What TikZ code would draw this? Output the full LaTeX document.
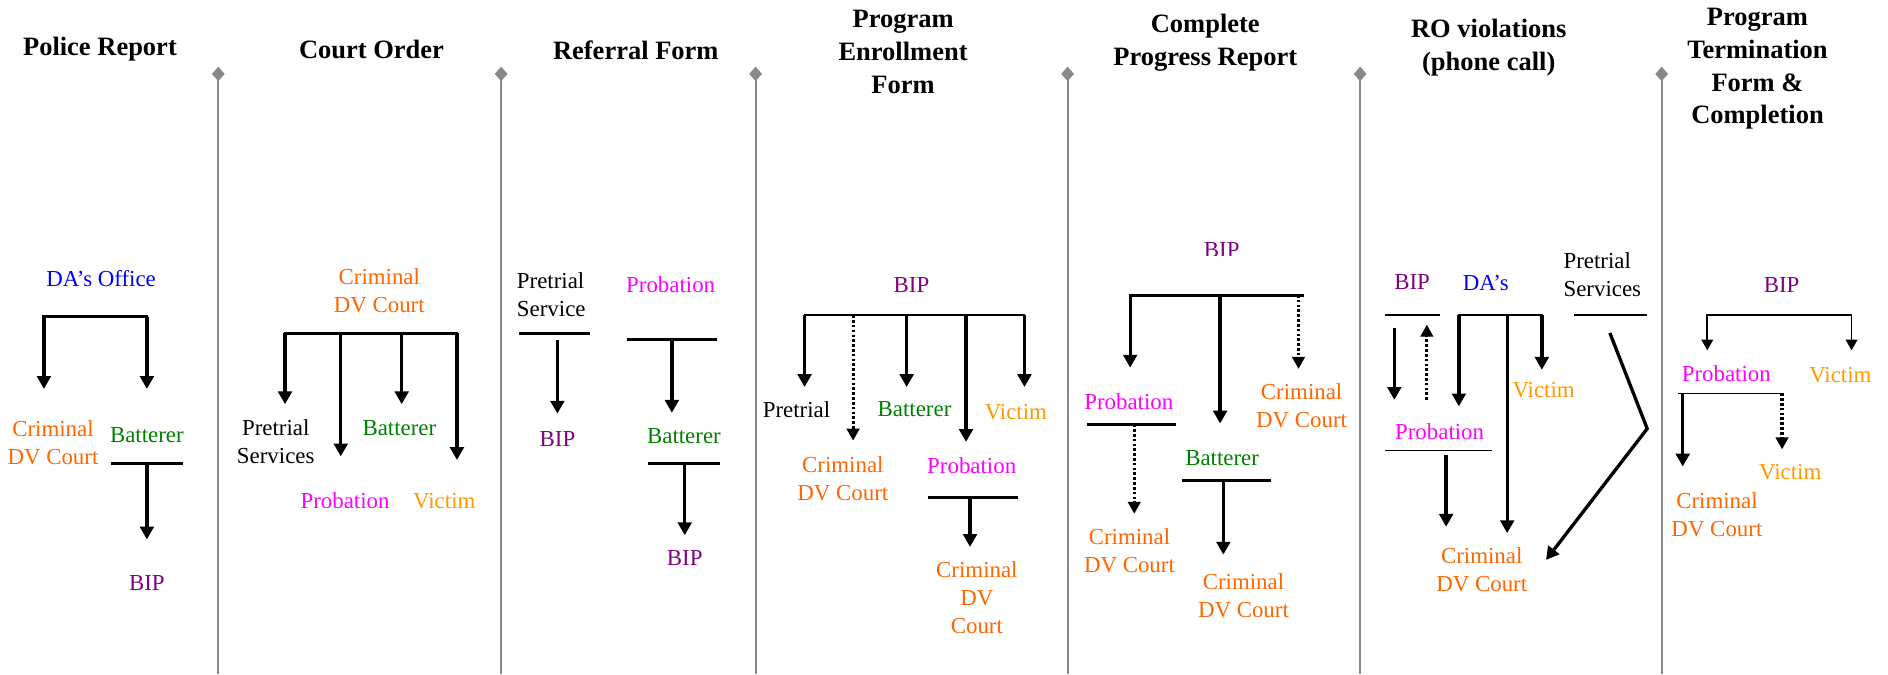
\documentclass[tikz,border=0pt]{standalone}
\usepackage{fontspec}
\setmainfont{Liberation Serif}
\usetikzlibrary{arrows.meta,calc}
\definecolor{cOr}{HTML}{FF6600}
\definecolor{cAm}{HTML}{FF9900}
\definecolor{cGr}{HTML}{008000}
\definecolor{cMa}{HTML}{FF00FF}
\definecolor{cPu}{HTML}{800080}
\definecolor{cBl}{HTML}{0000FF}
\definecolor{sepgray}{HTML}{888888}
\tikzset{
  lbl/.style={font=\fontsize{11.4}{14}\selectfont, align=center, inner sep=0pt},
  ttl/.style={font=\bfseries\fontsize{13.2}{16.4}\selectfont, align=center, inner sep=0pt},
  bar/.style={line width=1.5pt, line cap=rect},
  tbar/.style={line width=0.8pt, line cap=rect},
  mbar/.style={line width=0.95pt, line cap=rect},
  arr/.style={line width=1.65pt, -{Triangle[width=6.8pt,length=6.4pt]}},
  tarr/.style={line width=0.9pt, -{Triangle[width=5.8pt,length=5.4pt]}},
  darr/.style={line width=1.6pt, dash pattern=on 1.3pt off 1.1pt, -{Triangle[width=6.2pt,length=6pt]}},
  sepline/.style={draw=sepgray, line width=1pt},
  sepmark/.style={fill=sepgray, draw=none},
}
\begin{document}
\begin{tikzpicture}[x=0.6pt, y=-0.6pt]
\useasboundingbox (0,0) rectangle (1568,560);

% separators
\foreach \sx [count=\i] in {181.3,416.2,627.5,886.6,1129.6,1380}{
  \coordinate (s\i) at (\sx,61.4);
  \coordinate (s\i b) at (\sx,560);
  \draw[sepline] (s\i) -- (s\i b);
  \fill[sepmark] ($(s\i)+(0,-6)$) -- ($(s\i)+(5.3,0)$) -- ($(s\i)+(0,6)$) -- ($(s\i)+(-5.3,0)$) -- cycle;
}

% ---------- Panel 1: Police Report
\node[ttl] (t1) at (83,41) {Police Report};
\node[lbl, text=cBl] (da1) at (84,231) {DA’s Office};
\node[lbl, text=cOr] (cr1) at (44,368) {Criminal\\DV Court};
\node[lbl, text=cGr] (bat1) at (122,361) {Batterer};
\node[lbl, text=cPu] (bip1) at (122,484) {BIP};
\coordinate (a1) at (36.5,263); \coordinate (a1t) at (36.5,323);
\coordinate (b1) at (122,263);  \coordinate (b1t) at (122,323);
\draw[bar] (a1) -- (b1);
\draw[arr] (a1) -- (a1t);
\draw[arr] (b1) -- (b1t);
\coordinate (c1l) at (93.5,385); \coordinate (c1r) at (151,385);
\coordinate (c1) at (122,385); \coordinate (c1t) at (122,448);
\draw[bar] (c1l) -- (c1r);
\draw[arr] (c1) -- (c1t);

% ---------- Panel 2: Court Order
\node[ttl] (t2) at (308.5,41) {Court Order};
\node[lbl, text=cOr] (cr2) at (315,241.7) {Criminal\\DV Court};
\node[lbl] (pre2) at (229,367) {Pretrial\\Services};
\node[lbl, text=cGr] (bat2) at (331.7,355.3) {Batterer};
\node[lbl, text=cMa] (prob2) at (286.6,416) {Probation};
\node[lbl, text=cAm] (vic2) at (369,416) {Victim};
\coordinate (h2l) at (236.7,276.6); \coordinate (h2r) at (379.5,276.6);
\draw[bar] (h2l) -- (h2r);
\coordinate (h2a) at (283,276.6); \coordinate (h2b) at (333.6,276.6);
\coordinate (h2lt) at (236.7,335.7); \coordinate (h2at) at (283,379);
\coordinate (h2bt) at (333.6,335.7); \coordinate (h2rt) at (379.5,382);
\draw[arr] (h2l) -- (h2lt);
\draw[arr] (h2a) -- (h2at);
\draw[arr] (h2b) -- (h2bt);
\draw[arr] (h2r) -- (h2rt);

% ---------- Panel 3: Referral Form
\node[ttl] (t3) at (528,42) {Referral Form};
\node[lbl, align=left, anchor=west] (pre3) at (429,244.6) {Pretrial\\Service};
\node[lbl, text=cPu] (bip3a) at (463,364.3) {BIP};
\node[lbl, text=cMa] (prob3) at (557,236.4) {Probation};
\node[lbl, text=cGr] (bat3) at (568,362.5) {Batterer};
\node[lbl, text=cPu] (bip3b) at (568.7,463.5) {BIP};
\coordinate (g3l) at (432,276.8); \coordinate (g3r) at (489,276.8);
\draw[bar] (g3l) -- (g3r);
\coordinate (g3s) at (462.9,282); \coordinate (g3t) at (462.9,343.5);
\draw[arr] (g3s) -- (g3t);
\coordinate (k3l) at (522,282); \coordinate (k3r) at (594,282);
\draw[bar] (k3l) -- (k3r);
\coordinate (k3s) at (558,282); \coordinate (k3t) at (558,342.8);
\draw[arr] (k3s) -- (k3t);
\coordinate (m3l) at (539,384.6); \coordinate (m3r) at (597,384.6);
\draw[bar] (m3l) -- (m3r);
\coordinate (m3s) at (568.7,384.6); \coordinate (m3t) at (568.7,444.5);
\draw[arr] (m3s) -- (m3t);

% ---------- Panel 4: Program Enrollment Form
\node[ttl] (t4) at (750,43) {Program\\Enrollment\\Form};
\node[lbl, text=cPu] (bip4) at (757,236.4) {BIP};
\node[lbl] (pre4) at (661.5,340) {Pretrial};
\node[lbl, text=cGr] (bat4) at (759.5,340) {Batterer};
\node[lbl, text=cAm] (vic4) at (843.7,342) {Victim};
\node[lbl, text=cOr] (cr4a) at (700,397.3) {Criminal\\DV Court};
\node[lbl, text=cMa] (prob4) at (807,386.7) {Probation};
\node[lbl, text=cOr] (cr4b) at (811.3,496.6) {Criminal\\DV\\Court};
\coordinate (h4a) at (668.2,261.8); \coordinate (h4b) at (708.5,261.8);
\coordinate (h4c) at (753,261.8); \coordinate (h4d) at (802.3,261.8);
\coordinate (h4e) at (850.8,261.8);
\draw[mbar] (h4a) -- (h4e);
\coordinate (h4at) at (668.2,321.4); \coordinate (h4bt) at (708.5,366);
\coordinate (h4ct) at (753,321.4); \coordinate (h4dt) at (802.3,367);
\coordinate (h4et) at (850.8,321.4);
\draw[arr] (h4a) -- (h4at);
\draw[darr] (h4b) -- (h4bt);
\draw[arr] (h4c) -- (h4ct);
\draw[arr] (h4d) -- (h4dt);
\draw[arr] (h4e) -- (h4et);
\coordinate (q4l) at (772,413.2); \coordinate (q4r) at (844,413.2);
\draw[bar] (q4l) -- (q4r);
\coordinate (q4s) at (805.6,413.2); \coordinate (q4t) at (805.6,454.2);
\draw[arr] (q4s) -- (q4t);

% ---------- Panel 5: Complete Progress Report
\node[ttl] (t5) at (1001,35.5) {Complete\\Progress Report};
\begin{scope}
  \clip (960,185) rectangle (1070,212.5);
  \node[lbl, text=cPu] (bip5) at (1014.6,208) {BIP};
\end{scope}
\node[lbl, text=cMa] (prob5) at (937.5,333.9) {Probation};
\node[lbl, text=cOr] (cr5a) at (938,457.3) {Criminal\\DV Court};
\node[lbl, text=cOr] (cr5b) at (1081,336.6) {Criminal\\DV Court};
\node[lbl, text=cGr] (bat5) at (1015,380.3) {Batterer};
\node[lbl, text=cOr] (cr5c) at (1032.7,494.6) {Criminal\\DV Court};
\coordinate (h5a) at (938.6,245); \coordinate (h5b) at (1013.3,245);
\coordinate (h5c) at (1078.4,245); \coordinate (h5r) at (1081.5,245);
\draw[bar] (h5a) -- (h5r);
\coordinate (h5at) at (938.6,305.3); \coordinate (h5bt) at (1013.3,351.7);
\coordinate (h5ct) at (1078.4,306.4);
\draw[arr] (h5a) -- (h5at);
\draw[arr] (h5b) -- (h5bt);
\draw[darr] (h5c) -- (h5ct);
\coordinate (p5l) at (904,352.4); \coordinate (p5r) at (975,352.4);
\draw[bar] (p5l) -- (p5r);
\coordinate (p5s) at (942,352.4); \coordinate (p5t) at (942,426.7);
\draw[darr] (p5s) -- (p5t);
\coordinate (r5l) at (982.9,399.2); \coordinate (r5r) at (1054,399.2);
\draw[bar] (r5l) -- (r5r);
\coordinate (r5s) at (1016,399.2); \coordinate (r5t) at (1016,460.6);
\draw[arr] (r5s) -- (r5t);

% ---------- Panel 6: RO violations
\node[ttl] (t6) at (1236.4,39.7) {RO violations\\(phone call)};
\node[lbl, text=cPu] (bip6) at (1172.8,233.9) {BIP};
\node[lbl, text=cBl] (da6) at (1234,235) {DA’s};
\node[lbl, align=left, anchor=west] (pre6) at (1298.2,228.2) {Pretrial\\Services};
\node[lbl, text=cAm] (vic6) at (1282,323.9) {Victim};
\node[lbl, text=cMa] (prob6) at (1195.6,358.9) {Probation};
\node[lbl, text=cOr] (cr6) at (1230.6,472.8) {Criminal\\DV Court};
\coordinate (u6l) at (1150.7,261.8); \coordinate (u6r) at (1195,261.8);
\draw[tbar] (u6l) -- (u6r);
\coordinate (d6s) at (1158,272.5); \coordinate (d6t) at (1158,332.1);
\draw[arr] (d6s) -- (d6t);
\coordinate (e6s) at (1185,332.1); \coordinate (e6t) at (1185,269.6);
\draw[darr] (e6s) -- (e6t);
\coordinate (v6a) at (1211.6,261.8); \coordinate (v6b) at (1251.7,261.8);
\coordinate (v6c) at (1280.5,261.8);
\draw[tbar] (v6a) -- (v6c);
\coordinate (v6at) at (1211.6,337.5); \coordinate (v6bt) at (1251.7,442.8);
\coordinate (v6ct) at (1280.5,307.1);
\draw[arr] (v6a) -- (v6at);
\draw[arr] (v6b) -- (v6bt);
\draw[arr] (v6c) -- (v6ct);
\coordinate (w6l) at (1150.7,374.2); \coordinate (w6r) at (1238.4,374.2);
\draw[tbar] (w6l) -- (w6r);
\coordinate (w6s) at (1201,377.8); \coordinate (w6t) at (1201,437.5);
\draw[arr] (w6s) -- (w6t);
\coordinate (x6l) at (1308,261.8); \coordinate (x6r) at (1367,261.8);
\draw[tbar] (x6l) -- (x6r);
\coordinate (y6a) at (1337,276.5); \coordinate (y6b) at (1368,356);
\coordinate (y6c) at (1284,465);
\draw[arr] (y6a) -- (y6b) -- (y6c);

% ---------- Panel 7: Program Termination Form & Completion
\node[ttl] (t7) at (1459.6,57.1) {Program\\Termination\\Form \&\\Completion};
\node[lbl, text=cPu] (bip7) at (1479.6,236.4) {BIP};
\node[lbl, text=cMa] (prob7) at (1433.7,310.7) {Probation};
\node[lbl, text=cAm] (vic7a) at (1528.4,311.7) {Victim};
\node[lbl, text=cAm] (vic7b) at (1486.8,391.7) {Victim};
\node[lbl, text=cOr] (cr7) at (1425.9,427.6) {Criminal\\DV Court};
\coordinate (h7l) at (1417.9,261.8); \coordinate (h7r) at (1537.7,261.8);
\draw[tbar] (h7l) -- (h7r);
\coordinate (h7lt) at (1417.9,291); \coordinate (h7rt) at (1537.7,291);
\draw[tarr] (h7l) -- (h7lt);
\draw[tarr] (h7r) -- (h7rt);
\coordinate (b7l) at (1394,326.7); \coordinate (b7r) at (1481,326.7);
\draw[tbar] (b7l) -- (b7r);
\coordinate (b7s) at (1397.5,326.7); \coordinate (b7t) at (1397.5,387.4);
\draw[arr] (b7s) -- (b7t);
\coordinate (b7d) at (1480,326.7); \coordinate (b7dt) at (1480,373.2);
\draw[darr] (b7d) -- (b7dt);
\end{tikzpicture}
\end{document}
